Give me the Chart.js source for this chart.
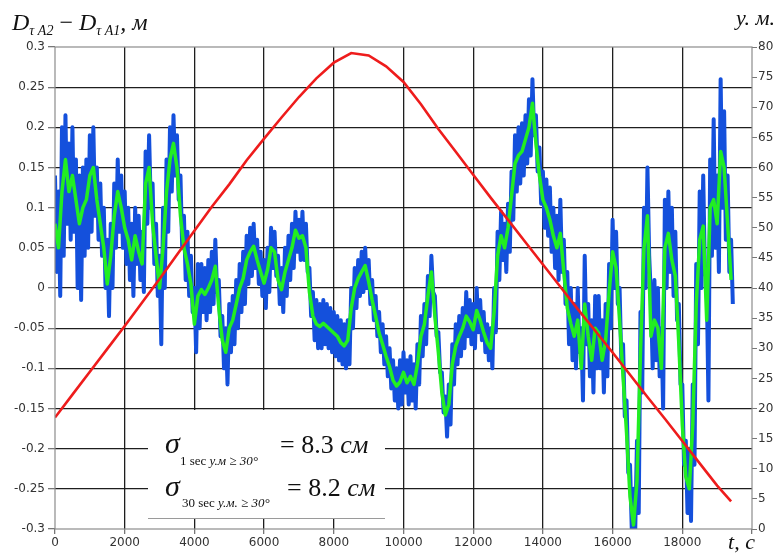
<!DOCTYPE html>
<html><head><meta charset="utf-8">
<script src="https://cdn.jsdelivr.net/npm/chart.js@4.4.1/dist/chart.umd.min.js"></script>
<style>html,body{margin:0;padding:0;background:#fff}#wrap{width:778px;height:553px;position:relative}</style>
</head><body><div id="wrap"><canvas id="c" width="778" height="553"></canvas></div>
<script>
// x axis (time, s)
const xMin = 0, xMax = 20000, xStep = 2000;
// left axis (m), right axis (elevation, deg)
const leftMin = -0.3, leftMax = 0.3, leftStep = 0.05;
const rightMin = 0, rightMax = 80, rightStep = 5;

// 30-sec smoothed difference (green), samples every 100 s from 0
const greenStep = 100;
const greenValues = [
 0.08,0.05,0.12,0.16,0.12,0.14,0.11,0.08,0.10,0.11,
 0.14,0.15,0.11,0.08,0.05,0.005,0.04,0.09,0.12,0.10,
 0.075,0.06,0.035,0.065,0.045,0.03,0.13,0.15,0.08,0.04,
 0.0,0.05,0.12,0.16,0.18,0.15,0.09,0.05,0.03,0.005,
 -0.045,-0.01,-0.002,-0.008,0.0,0.01,0.027,-0.025,-0.065,-0.08,
 -0.05,-0.04,-0.02,0.0,0.012,0.035,0.045,0.052,0.035,0.02,
 0.006,0.023,0.05,0.045,0.01,-0.002,0.02,0.035,0.05,0.072,
 0.062,0.065,0.05,-0.005,-0.035,-0.045,-0.048,-0.044,-0.048,-0.052,
 -0.056,-0.06,-0.068,-0.072,-0.065,-0.025,0.0,0.012,0.02,0.028,
 0.008,-0.015,-0.035,-0.056,-0.07,-0.085,-0.098,-0.115,-0.122,-0.117,
 -0.105,-0.118,-0.11,-0.12,-0.095,-0.06,-0.045,-0.01,0.02,-0.035,
 -0.08,-0.13,-0.158,-0.145,-0.095,-0.072,-0.06,-0.05,-0.035,-0.042,
 -0.052,-0.028,-0.04,-0.055,-0.068,-0.075,-0.03,0.04,0.065,0.05,
 0.075,0.115,0.155,0.165,0.17,0.185,0.2,0.23,0.18,0.14,
 0.11,0.1,0.085,0.065,0.05,0.068,0.02,-0.025,-0.044,-0.06,
 -0.04,-0.1,-0.02,-0.06,-0.09,-0.05,-0.056,-0.09,-0.065,-0.006,
 0.045,0.025,-0.04,-0.11,-0.18,-0.26,-0.295,-0.24,-0.08,0.05,
 0.09,-0.06,-0.04,-0.05,-0.1,0.05,0.068,0.035,0.015,-0.069,
 -0.17,-0.235,-0.25,-0.17,-0.02,0.06,0.077,-0.04,0.1,0.11,
 0.08,0.17,0.15,0.08,0.01
];

// 1-sec difference (blue), samples every 50 s from 0
const blueStep = 50;
const blueValues = [
 0.14,0.02, 0.12,-0.01, 0.2,0.04, 0.215,0.08, 0.18,0.06,
 0.2,0.07, 0.16,0.0, 0.14,-0.015, 0.15,0.04, 0.16,0.05,
 0.19,0.07, 0.2,0.09, 0.15,0.06, 0.13,0.04, 0.1,0.0,
 0.06,-0.035, 0.08,0.0, 0.13,0.05, 0.16,0.07, 0.14,0.05,
 0.12,0.03, 0.1,0.01, 0.08,-0.01, 0.1,0.03, 0.09,0.01,
 0.07,-0.005, 0.17,0.08, 0.19,0.1, 0.13,0.03, 0.08,-0.01,
 0.04,-0.07, 0.1,0.0, 0.16,0.07, 0.2,0.12, 0.215,0.14,
 0.19,0.11, 0.14,0.05, 0.09,0.01, 0.07,-0.01, 0.04,-0.03,
 0.0,-0.08, 0.03,-0.05, 0.03,-0.03, 0.025,-0.04, 0.035,-0.03,
 0.045,-0.02, 0.06,-0.005, 0.01,-0.06, -0.035,-0.1, -0.05,-0.12,
 -0.02,-0.08, -0.01,-0.07, 0.01,-0.05, 0.03,-0.03, 0.045,-0.02,
 0.065,0.005, 0.075,0.015, 0.08,0.025, 0.06,0.005, 0.045,-0.01,
 0.035,-0.025, 0.05,-0.005, 0.075,0.025, 0.07,0.015, 0.04,-0.02,
 0.025,-0.03, 0.05,-0.01, 0.065,0.01, 0.08,0.025, 0.095,0.045,
 0.085,0.035, 0.095,0.035, 0.08,0.02, 0.025,-0.035, -0.005,-0.065,
 -0.015,-0.075, -0.02,-0.075, -0.015,-0.07, -0.02,-0.075, -0.025,-0.08,
 -0.03,-0.085, -0.035,-0.09, -0.04,-0.095, -0.045,-0.1, -0.04,-0.095,
 0.0,-0.05, 0.025,-0.025, 0.035,-0.01, 0.045,-0.005, 0.05,0.0,
 0.035,-0.02, 0.01,-0.04, -0.01,-0.06, -0.03,-0.08, -0.045,-0.095,
 -0.06,-0.11, -0.075,-0.125, -0.09,-0.14, -0.1,-0.15, -0.09,-0.145,
 -0.08,-0.13, -0.09,-0.145, -0.085,-0.14, -0.095,-0.15, -0.07,-0.12,
 -0.035,-0.085, -0.02,-0.07, 0.015,-0.035, 0.04,-0.005, -0.01,-0.06,
 -0.055,-0.105, -0.105,-0.155, -0.135,-0.185, -0.12,-0.17, -0.07,-0.12,
 -0.045,-0.095, -0.035,-0.085, -0.025,-0.075, -0.005,-0.06, -0.015,-0.07,
 -0.02,-0.075, 0.0,-0.055, -0.015,-0.065, -0.03,-0.08, -0.045,-0.09,
 -0.05,-0.1, 0.0,-0.055, 0.07,0.01, 0.095,0.035, 0.08,0.02,
 0.105,0.045, 0.145,0.085, 0.19,0.12, 0.2,0.13, 0.205,0.14,
 0.215,0.155, 0.235,0.165, 0.26,0.19, 0.215,0.145, 0.175,0.105,
 0.145,0.075, 0.135,0.065, 0.125,0.045, 0.1,0.025, 0.09,0.01,
 0.11,0.02, 0.06,-0.02, 0.02,-0.07, 0.0,-0.09, -0.02,-0.1,
 0.0,-0.08, -0.05,-0.14, 0.04,-0.07, -0.02,-0.11, -0.04,-0.13,
 -0.01,-0.1, -0.01,-0.1, -0.04,-0.13, -0.02,-0.11, 0.03,-0.05,
 0.085,0.0, 0.07,-0.02, 0.0,-0.09, -0.07,-0.16, -0.14,-0.23,
 -0.22,-0.3, -0.25,-0.3, -0.19,-0.28, -0.03,-0.13, 0.1,0.0,
 0.15,0.04, -0.01,-0.1, 0.01,-0.09, 0.0,-0.11, -0.05,-0.15,
 0.11,0.0, 0.12,0.02, 0.1,-0.01, 0.07,-0.04, -0.02,-0.12,
 -0.12,-0.22, -0.19,-0.28, -0.2,-0.29, -0.12,-0.22, 0.03,-0.07,
 0.12,0.0, 0.14,0.02, 0.01,-0.14, 0.16,0.04, 0.21,0.05,
 0.14,0.02, 0.26,0.1, 0.22,0.06, 0.14,0.02, 0.06,-0.02
];

// satellite elevation (red, right axis)
const redTimes = [0,500,1000,1500,2000,2500,3000,3500,4000,4500,5000,5500,6000,6500,7000,7500,8000,8500,9000,9500,10000,10500,11000,11500,12000,12500,13000,13500,14000,14500,15000,15500,16000,16500,17000,17500,18000,18500,19000,19400];
const redValues = [18.5,22.3,26.1,29.9,33.7,37.6,41.5,45.5,49.5,53.5,57.2,61.2,64.8,68.3,71.7,74.8,77.4,79,78.6,76.8,74.2,70.5,66.4,62.6,58.8,55.0,51.3,47.6,43.9,40.2,36.5,32.9,29.3,25.6,21.9,18.3,14.6,10.9,7.2,4.6];

const greenPts = greenValues.map((v,i)=>({x:i*greenStep, y:v}));
const bluePts = blueValues.map((v,i)=>({x:i*blueStep, y:v}));
const redPts = redValues.map((v,i)=>({x:redTimes[i], y:v}));

const SERIF = '"Liberation Serif", "Times New Roman", serif';
function drawRuns(ctx, x, y, runs){
  for (const r of runs){
    ctx.font = r.f;
    ctx.fillText(r.t, x, y + (r.dy||0));
    x += ctx.measureText(r.t).width + (r.sp||0);
  }
}

const deco = {
  id: 'deco',
  afterDraw(chart){
    const ctx = chart.ctx, a = chart.chartArea;
    ctx.save();
    // frame
    ctx.strokeStyle = '#8c8c8c'; ctx.lineWidth = 1.2;
    ctx.strokeRect(a.left, a.top, a.right - a.left, a.bottom - a.top);
    // annotation box
    ctx.fillStyle = '#fff';
    ctx.fillRect(148, 410, 237, 108);
    ctx.strokeStyle = '#9a9a9a'; ctx.lineWidth = 1;
    ctx.beginPath(); ctx.moveTo(148, 518.5); ctx.lineTo(385, 518.5); ctx.stroke();
    ctx.fillStyle = '#111';
    ctx.textBaseline = 'alphabetic'; ctx.textAlign = 'left';
    drawRuns(ctx, 165, 453, [{t:'σ', f:'italic 30px '+SERIF}]);
    drawRuns(ctx, 180, 465, [{t:'1 sec ', f:'13px '+SERIF},{t:'у.м ≥ 30°', f:'italic 13px '+SERIF}]);
    drawRuns(ctx, 280, 453, [{t:'= 8.3 ', f:'26px '+SERIF},{t:'см', f:'italic 26px '+SERIF}]);
    drawRuns(ctx, 165, 496, [{t:'σ', f:'italic 30px '+SERIF}]);
    drawRuns(ctx, 182, 507, [{t:'30 sec ', f:'13px '+SERIF},{t:'у.м. ≥ 30°', f:'italic 13px '+SERIF}]);
    drawRuns(ctx, 287, 496, [{t:'= 8.2 ', f:'26px '+SERIF},{t:'см', f:'italic 26px '+SERIF}]);
    // axis titles
    drawRuns(ctx, 12, 30, [
      {t:'D', f:'italic 24px '+SERIF},
      {t:'τ A2', f:'italic 14px '+SERIF, dy:5},
      {t:' − ', f:'24px '+SERIF},
      {t:'D', f:'italic 24px '+SERIF},
      {t:'τ A1', f:'italic 14px '+SERIF, dy:5},
      {t:', ', f:'italic 24px '+SERIF},
      {t:'м', f:'italic 24px '+SERIF}
    ]);
    ctx.textAlign = 'right';
    ctx.font = 'italic 22px ' + SERIF;
    ctx.fillText('у. м.', 775, 25);
    ctx.fillText('t, с', 755, 549);
    ctx.restore();
  }
};

const edge = (v, lo, hi) => (Math.abs(v - lo) < 1e-9 || Math.abs(v - hi) < 1e-9);

new Chart(document.getElementById('c'), {
  type: 'line',
  data: {
    datasets: [
      {label:'elevation', data: redPts, yAxisID:'y2', borderColor:'#ee1c1c', borderWidth:2.6, pointRadius:0, order:0},
      {label:'30 sec', data: greenPts, yAxisID:'y', borderColor:'#22ee22', borderWidth:3.5, borderJoinStyle:'round', pointRadius:0, order:1},
      {label:'1 sec', data: bluePts, yAxisID:'y', borderColor:'#1450dc', borderWidth:4, borderJoinStyle:'round', pointRadius:0, order:2}
    ]
  },
  options: {
    responsive: false, animation: false, devicePixelRatio: 1,
    layout: {padding: {top: 47, left: 0, right: 0, bottom: 0}},
    plugins: {legend: {display: false}, tooltip: {enabled: false}},
    elements: {line: {tension: 0}},
    scales: {
      x: {
        type: 'linear', min: xMin, max: xMax,
        afterFit: s => { s.height = 24; },
        border: {display: false},
        grid: {
          color: c => edge(c.tick.value, xMin, xMax) ? 'rgba(0,0,0,0)' : '#1e1e1e',
          lineWidth: 1.3, tickLength: 5, tickColor: '#777'
        },
        ticks: {
          stepSize: xStep, autoSkip: false, maxRotation: 0, padding: 2,
          color: '#333', font: {family: '"DejaVu Sans"', size: 12},
          callback: v => v === xMax ? '' : String(v)
        }
      },
      y: {
        type: 'linear', position: 'left', min: leftMin, max: leftMax,
        afterFit: s => { s.width = 55; },
        border: {display: false},
        grid: {
          color: c => edge(c.tick.value, leftMin, leftMax) ? 'rgba(0,0,0,0)' : '#1e1e1e',
          lineWidth: 1.3, tickLength: 7, tickColor: '#777'
        },
        ticks: {
          stepSize: leftStep, padding: 3, color: '#333',
          font: {family: '"DejaVu Sans"', size: 12},
          callback: v => String(+(+v).toFixed(2))
        }
      },
      y2: {
        type: 'linear', position: 'right', min: rightMin, max: rightMax,
        afterFit: s => { s.width = 26; },
        border: {display: false},
        grid: {drawOnChartArea: false, tickLength: 5, tickColor: '#777'},
        ticks: {
          stepSize: rightStep, padding: 1, color: '#333',
          font: {family: '"DejaVu Sans"', size: 12}
        }
      }
    }
  },
  plugins: [deco]
});
</script>
</body></html>
